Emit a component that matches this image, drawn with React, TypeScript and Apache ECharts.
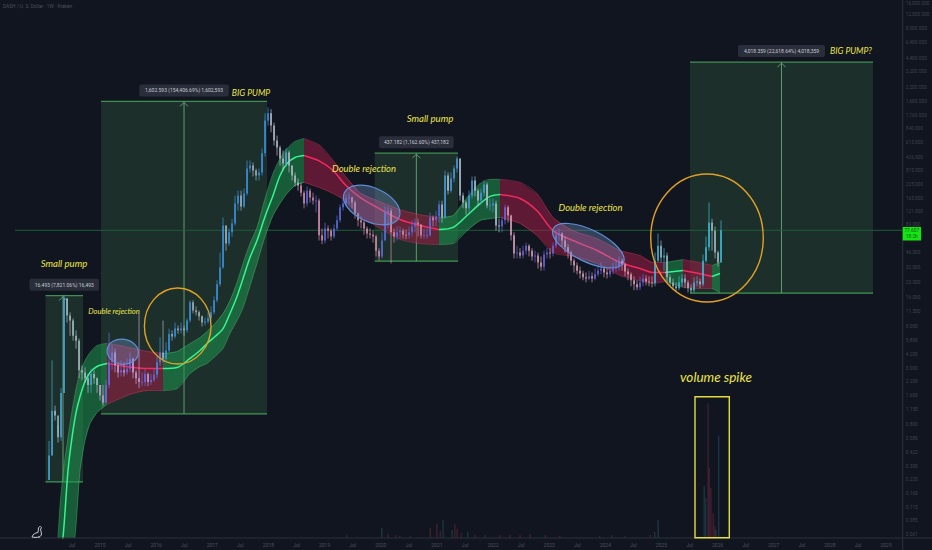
import React, { useEffect, useRef } from "react";
import * as echarts from "echarts";

const title = "DASH / U. S. Dollar · 1W · Kraken";
const axisMinYear = 2013.5;
const axisMaxYear = 2029.296;
const priceAxisMin = 0.05623;
const priceAxisMax = 17372;
const lastPrice = 77.607;

const priceTicks = [16000, 12500, 8900, 6400, 4400, 3200, 2200, 1600, 1160, 840, 615, 426, 315, 225, 165, 121, 89, 46, 32, 23, 16, 11.5, 8, 5.8, 4.2, 3, 2.2, 1.6, 1.15, 0.8, 0.58, 0.422, 0.3, 0.22, 0.16, 0.115, 0.085, 0.061];
const priceTickLabels = priceTicks.map((v) => v.toLocaleString("en-US", { minimumFractionDigits: 3, maximumFractionDigits: 3 }));

const candleStartYear = 2014.092;
const candleStepYears = 0.05343;
const candleCloses = [
  0.39, 1.12, 1.0, 0.6, 1.7, 15.7, 10.5, 9.3, 6.5, 5.8,
  2.9, 2.75, 2.4, 2.05, 2.65, 2.4, 2.05, 1.6, 1.35, 2.05,
  3.5, 4.4, 3.25, 2.75, 2.9, 2.75, 3, 3.8, 2.75, 2.4,
  2.2, 2.2, 2.65, 2.2, 2.3, 2.6, 3.5, 4.4, 3.8, 4.6,
  6.8, 6.4, 7.7, 7.4, 7.7, 7.4, 9.3, 14.3, 11.8, 11.3,
  10.3, 8.9, 9.1, 9.8, 11.3, 15, 21.8, 32.4, 87, 57,
  74, 91, 146, 176, 136, 184, 331, 355, 316, 281,
  302, 473, 1023, 1215, 910, 639, 543, 419, 373, 483,
  355, 281, 239, 222, 188, 146, 197, 168, 156, 156,
  69, 61, 81, 77, 67, 81, 98, 133, 146, 164,
  168, 149, 115, 98, 93, 81, 72, 70, 67, 48,
  42, 61, 118, 123, 74, 67, 74, 77, 70, 69,
  74, 85, 93, 89, 69, 69, 69, 105, 98, 107,
  142, 105, 281, 197, 262, 331, 419, 176, 149, 130,
  176, 250, 197, 156, 188, 228, 139, 139, 146, 87,
  85, 98, 133, 110, 69, 45, 46, 43, 48, 54,
  48, 42, 43, 36.4, 33, 44, 46, 45, 54, 69,
  72, 61, 52, 46, 38, 34, 30, 28.1, 25.7, 25,
  26.3, 25, 27.6, 30, 31.6, 28.8, 27.6, 30, 31.6, 33,
  38, 34.7, 29.5, 27.6, 24, 21.8, 20.3, 22.8, 25, 23.3,
  22.8, 22.3, 38, 54, 41, 43, 25.7, 22.8, 20.8, 19.9,
  22.8, 25, 22.8, 19.9, 19, 22.8, 23.3, 21.8, 38, 52,
  93, 77, 46, 36.4, 77.607,
];
const candleHighs = [
  0.55, 3.65, 1.26, 0.79, 1.9, 16.9, 15.7, 11.3, 9.8, 7.4,
  6.1, 3.25, 3.1, 2.65, 3, 2.9, 2.45, 2.05, 2.05, 2.3,
  7, 5.2, 4.8, 3.5, 3.65, 3.5, 3.8, 4.4, 3.9, 2.9,
  11, 2.75, 3, 2.75, 2.65, 3, 4, 6.3, 9.3, 5.6,
  7.7, 7.4, 8.9, 8.3, 8.9, 8.3, 9.8, 15, 15, 13,
  11.8, 10.5, 10, 11.3, 13, 16.4, 24, 46, 105, 87,
  81, 102, 176, 197, 197, 207, 400, 400, 382, 331,
  331, 530, 1215, 1395, 1335, 975, 719, 569, 506, 530,
  506, 355, 302, 262, 239, 197, 217, 207, 188, 176,
  164, 81, 93, 87, 81, 89, 110, 142, 164, 180,
  188, 172, 156, 118, 107, 98, 85, 81, 77, 70,
  51, 74, 136, 136, 130, 81, 85, 85, 81, 79,
  85, 98, 102, 102, 89, 81, 81, 118, 110, 123,
  156, 156, 316, 302, 302, 355, 439, 419, 188, 156,
  197, 275, 275, 207, 207, 250, 239, 164, 164, 156,
  102, 107, 142, 139, 112, 74, 54, 51, 54, 58,
  56, 51, 48, 46, 42, 48, 51, 51, 58, 77,
  81, 74, 67, 56, 48, 40, 36.4, 33, 30, 28.8,
  30, 28.8, 31.6, 34, 36.4, 33, 31.6, 33, 36.4, 38,
  42, 40, 36.4, 31.6, 28.8, 26.3, 24, 26.3, 27.6, 27,
  26.3, 26.3, 46, 72, 61, 51, 46, 27.6, 25, 22.8,
  26.3, 27.6, 27.6, 24, 21.8, 25.7, 26.3, 25, 44, 67,
  149, 102, 85, 48, 98,
];
const candleLows = [
  0.22, 0.39, 0.89, 0.53, 0.55, 1.7, 8.9, 6.5, 5.8, 4.8,
  2.4, 2.3, 2.15, 1.7, 1.7, 2.1, 1.7, 1.42, 1.26, 1.35,
  1.9, 2.9, 2.75, 2.45, 2.5, 2.5, 2.6, 2.75, 2.4, 2.1,
  1.9, 2, 2, 2, 2.05, 2.2, 2.4, 3.2, 3.5, 3.5,
  4.4, 5.8, 6.1, 6.8, 6.9, 6.5, 7, 8.9, 11, 10.5,
  9.3, 8.1, 8.3, 8.7, 9.3, 10.8, 14.3, 20.8, 31.6, 48,
  54, 67, 87, 123, 123, 130, 176, 302, 275, 250,
  250, 281, 439, 910, 775, 569, 449, 355, 316, 347,
  302, 250, 217, 197, 172, 130, 136, 149, 142, 118,
  61, 56, 57, 64, 61, 64, 77, 93, 123, 136,
  142, 130, 102, 85, 81, 70, 64, 64, 58, 42,
  38, 40, 61, 81, 35.6, 58, 61, 64, 64, 63,
  64, 67, 74, 67, 64, 64, 64, 67, 85, 85,
  93, 93, 102, 180, 188, 239, 302, 156, 130, 112,
  118, 164, 172, 136, 142, 172, 130, 123, 118, 77,
  74, 74, 89, 93, 61, 40, 40, 40, 40, 44,
  42, 38, 36.4, 31.6, 30, 30, 40, 40, 42, 51,
  61, 53, 46, 40, 34, 28.8, 27.6, 25, 24, 22.8,
  24, 22.8, 24, 26.3, 27.6, 25.7, 25, 25.7, 27.6, 28.8,
  30, 30, 26.3, 24, 20.8, 19, 19, 19, 20.8, 21.3,
  20.8, 20.3, 20.8, 36.4, 36.4, 30, 22.8, 20.8, 19, 18.5,
  19, 20.8, 19.9, 18, 17.7, 18, 20.8, 19.9, 20.8, 36.4,
  48, 48, 40, 33, 36.4,
];
const candleZoneEnds = [2015, 2015.98, 2018.0, 2018.56, 2021.06, 2022.12, 2024.88, 2030];
const candleUpColors = ["#49a6d8", "#6f6ae6", "#3d93e0", "#5f9de0", "#5d6fe2", "#4a9ae0", "#6b68da", "#3dbbd8"];
const candleDownColors = ["#a9bcc6", "#c8a0d8", "#a6b4be", "#b9bcc8", "#d98fae", "#aec3cc", "#d8a2b6", "#a0bcc4"];

const bandYears = [
  2014.216, 2014.288, 2014.359, 2014.43, 2014.501, 2014.573, 2014.644, 2014.733, 2014.822, 2014.947, 2015.125,
  2015.356, 2015.588, 2015.855, 2016.122,
  2016.371, 2016.603, 2016.781, 2016.906, 2017.048, 2017.191, 2017.315, 2017.44, 2017.547, 2017.671, 2017.796, 2017.939, 2018.081, 2018.206, 2018.33, 2018.473, 2018.633,
  2018.918, 2019.15, 2019.363, 2019.63, 2019.933, 2020.343, 2020.699, 2021.037,
  2021.287, 2021.536, 2021.768, 2021.946, 2022.124,
  2022.48, 2022.783, 2023.068, 2023.424, 2023.851, 2024.261, 2024.617, 2024.849, 2025.062,
  2025.383, 2025.668, 2025.9, 2026.042,
];
const bandUpper = [
  0.0263, 0.121, 0.309, 0.596, 1.12, 1.88, 2.75, 3.64, 4.4, 5.18, 5.43,
  5.18, 4.83, 4.5, 4.29,
  4.5, 5.43, 6.25, 7.2, 8.7, 11, 14.9, 22.8, 35.6, 56.9, 83, 164, 295, 419, 530, 625, 671,
  568, 400, 281, 188, 156, 126, 112, 105,
  110, 168, 233, 257, 257,
  239, 184, 105, 77, 64, 48.3, 43, 36.4, 36.4,
  39, 36.4, 34, 36.4,
];
const bandMiddle = [
  0.005, 0.0263, 0.0755, 0.275, 0.596, 1.07, 1.56, 2.22, 2.75, 3.16, 3.39,
  3.24, 3.09, 3.02, 3.02,
  3.09, 3.82, 4.6, 5.43, 6.4, 7.7, 11, 16.4, 25, 41, 61, 107, 176, 281, 373, 429, 449,
  392, 316, 228, 168, 133, 100, 87, 79,
  83, 110, 145, 172, 180,
  164, 123, 77, 61, 48.3, 36.4, 31.6, 28.8, 28.8,
  30.2, 28.1, 26.2, 28.1,
];
const bandLower = [
  0.00077, 0.00197, 0.005, 0.013, 0.0296, 0.0755, 0.275, 0.556, 0.83, 1.07, 1.3,
  1.49, 1.68, 1.8, 1.8,
  1.88, 2.68, 3.16, 3.39, 4, 4.83, 6.9, 9.3, 12.6, 21, 35.6, 67, 110, 146, 184, 222, 239,
  211, 184, 156, 107, 85, 62.8, 56.9, 55.5,
  56.9, 77, 97.6, 102, 105,
  91, 68.5, 46, 42, 35.6, 26.8, 23.8, 22.3, 23.3,
  20.3, 19.8, 19.8, 18,
];
const bandSegmentStarts = [2014.216, 2015.125, 2016.122, 2018.633, 2021.037, 2022.124, 2025.062, 2025.383, 2025.9];
const bandSegmentEnds = [2015.125, 2016.122, 2018.633, 2021.037, 2022.124, 2025.062, 2025.383, 2025.9, 2026.042];
const bandSegmentRising = [true, false, true, false, true, false, true, false, true];

const measureStarts = [2014.029, 2015.018, 2019.892, 2025.508];
const measureEnds = [2014.697, 2017.974, 2021.376, 2028.767];
const measureArrows = [2014.341, 2016.496, 2020.634, 2027.137];
const measureLows = [0.21, 1.04, 37.6, 17.77];
const measureHighs = [16.7, 1603.6, 474.8, 4036];
const measureLabels = [
  "16.493 (7,821.06%) 16,493",
  "1,602.593 (154,406.69%) 1,602,593",
  "437.182 (1,162.60%) 437,182",
  "4,018.359 (22,618.64%) 4,018,359",
];

const volumeRedYears = [2019.4, 2020.13, 2020.27, 2020.34, 2020.52, 2020.88, 2021.0, 2021.06, 2021.32, 2021.36, 2021.43, 2021.68, 2021.86, 2022.12, 2022.3, 2022.48, 2022.66, 2022.93, 2023.19, 2023.9, 2024.12, 2024.35, 2024.8, 2025.83, 2025.85, 2025.88, 2025.92, 2025.95];
const volumeRedValues = [0.6, 0.75, 0.55, 0.4, 0.4, 1.9, 2.6, 1.3, 2.6, 1.7, 0.9, 0.55, 0.55, 0.55, 0.55, 0.55, 0.75, 0.55, 0.4, 0.4, 0.55, 0.4, 0.55, 25, 13, 9.3, 4.6, 2.2];
const volumeTealYears = [2020.02, 2021.11, 2021.27, 2021.55, 2024.88, 2024.94, 2025.76, 2025.79, 2025.97, 2026.02];
const volumeTealValues = [1.9, 3.3, 1.5, 1.1, 1.1, 3.3, 9.7, 7.4, 1.5, 19];

const annotations = [
  { text: "Small pump", x: 64, y: 263.5, size: 9.6 },
  { text: "Double rejection", x: 114, y: 311, size: 7.6 },
  { text: "BIG PUMP", x: 251, y: 93, size: 8.6 },
  { text: "Small pump", x: 430, y: 118, size: 9.6 },
  { text: "Double rejection", x: 364, y: 168, size: 9.4 },
  { text: "Double rejection", x: 590.5, y: 207, size: 9.4 },
  { text: "BIG PUMP?", x: 851, y: 51, size: 8.6 },
  { text: "volume spike", x: 716, y: 377, size: 13.5 },
];

echarts.graphic.registerShape(
  "dino",
  echarts.graphic.extendPath("M0 11 C1 8 3 7 6 6.5 L6.5 2 C7 0 9.5 0 9.5 2 L8.5 3 L9.5 8 C9.5 11 5 12 0 11 M3 11 L3 12 M7 10.5 L7 12", {}) as any
);

function buildOption() {
  const candleSeries = {
    type: "custom",
    clip: true,
    z: 6,
    silent: true,
    data: candleCloses.map((close, i) => [
      candleStartYear + i * candleStepYears,
      i === 0 ? candleLows[0] : candleCloses[i - 1],
      close,
      candleLows[i],
      candleHighs[i],
    ]),
    renderItem: (_p: any, api: any) => {
      const year = api.value(0);
      const open = api.value(1);
      const close = api.value(2);
      const zone = candleZoneEnds.findIndex((end) => year <= end);
      const color = close >= open ? candleUpColors[zone] : candleDownColors[zone];
      const [x, yOpen] = api.coord([year, open]);
      const [, yClose] = api.coord([year, close]);
      const [, yLow] = api.coord([year, api.value(3)]);
      const [, yHigh] = api.coord([year, api.value(4)]);
      const width = 1.5;
      return {
        type: "group",
        children: [
          { type: "line", shape: { x1: x, y1: yHigh, x2: x, y2: yLow }, style: { stroke: color, lineWidth: 0.7 } },
          {
            type: "rect",
            shape: { x: x - width / 2, y: Math.min(yOpen, yClose), width, height: Math.max(Math.abs(yClose - yOpen), 0.8) },
            style: { fill: color },
          },
        ],
      };
    },
  };

  const bandSeries: any[] = [];
  bandSegmentStarts.forEach((start, s) => {
    const end = bandSegmentEnds[s];
    const rising = bandSegmentRising[s];
    const idx = bandYears.map((_, i) => i).filter((i) => bandYears[i] >= start && bandYears[i] <= end);
    const fill = rising ? "rgba(30,150,78,0.55)" : "rgba(158,30,70,0.55)";
    const edge = rising ? "rgba(90,200,120,0.55)" : "rgba(225,60,100,0.55)";
    const core = rising ? "#35f58f" : "#f5285f";
    bandSeries.push({
      type: "custom",
      clip: true,
      z: 3,
      silent: true,
      data: [[bandYears[idx[0]], bandMiddle[idx[0]]]],
      renderItem: (_p: any, api: any) => {
        const up = idx.map((i) => api.coord([bandYears[i], bandUpper[i]]));
        const low = idx.map((i) => api.coord([bandYears[i], bandLower[i]])).reverse();
        return { type: "polygon", shape: { points: up.concat(low) }, style: { fill } };
      },
    });
    const line = (vals: number[], color: string, width: number) => ({
      type: "line",
      z: 4,
      silent: true,
      symbol: "none",
      smooth: 0.3,
      lineStyle: { color, width },
      data: idx.map((i) => [bandYears[i], vals[i]]),
    });
    bandSeries.push(line(bandUpper, edge, 0.7), line(bandLower, edge, 0.7), line(bandMiddle, core, 1.5));
  });

  const measureSeries = {
    type: "custom",
    z: 1,
    silent: true,
    data: measureStarts.map((s, i) => [s, measureHighs[i]]),
    renderItem: (params: any, api: any) => {
      const i = params.dataIndex;
      const [x0, yTop] = api.coord([measureStarts[i], measureHighs[i]]);
      const [x1, yBot] = api.coord([measureEnds[i], measureLows[i]]);
      const [xm] = api.coord([measureArrows[i], measureHighs[i]]);
      const label = measureLabels[i];
      const chipW = label.length * 2.5 + 7;
      const chipCx = (x0 + x1) / 2;
      return {
        type: "group",
        children: [
          { type: "rect", shape: { x: x0, y: yTop, width: x1 - x0, height: yBot - yTop }, style: { fill: "rgba(72,140,88,0.22)" } },
          { type: "line", shape: { x1: x0, y1: yTop, x2: x1, y2: yTop }, style: { stroke: "#3f8f52", lineWidth: 1.2 } },
          { type: "line", shape: { x1: x0, y1: yBot, x2: x1, y2: yBot }, style: { stroke: "#3f9a52", lineWidth: 1.2 } },
          { type: "line", shape: { x1: xm, y1: yTop, x2: xm, y2: yBot }, style: { stroke: "#5d9c70", lineWidth: 1 } },
          { type: "polyline", shape: { points: [[xm - 4, yTop + 5], [xm, yTop + 1], [xm + 4, yTop + 5]] }, style: { stroke: "#5d9c70", lineWidth: 1, fill: "none" } },
          { type: "rect", shape: { x: chipCx - chipW / 2, y: yTop - 17, width: chipW, height: 12, r: 2 }, style: { fill: "#2a2e3a" } },
          {
            type: "text",
            style: {
              x: chipCx,
              y: yTop - 11,
              text: label,
              fill: "#c6cad2",
              font: "5px Roboto",
              align: "center",
              verticalAlign: "middle",
              textAlign: "center",
              textVerticalAlign: "middle",
            },
          },
        ],
      };
    },
  };

  const textEl = (t: any) => ({
    type: "text",
    x: t.x,
    y: t.y,
    z: 110,
    silent: true,
    style: {
      text: t.text,
      fill: t.fill || "#ece54a",
      font: t.font || `italic ${t.size}px Lato`,
      align: t.align || "center",
      verticalAlign: "middle",
      textAlign: t.align || "center",
      textVerticalAlign: "middle",
    },
  });
  const ellipse = (cx: number, cy: number, rx: number, ry: number, rot: number, fill: string, stroke: string, lw: number) => ({
    type: "ellipse",
    x: cx,
    y: cy,
    rotation: rot,
    z: 100,
    silent: true,
    shape: { cx: 0, cy: 0, rx, ry },
    style: { fill, stroke, lineWidth: lw },
  });

  return {
    animation: false,
    backgroundColor: "#11151f",
    grid: { left: 15.8, right: 29.3, top: 0, bottom: 12, containLabel: false },
    xAxis: {
      type: "value",
      min: axisMinYear,
      max: axisMaxYear,
      interval: 0.5,
      splitLine: { show: false },
      axisLine: { show: false },
      axisTick: { show: false },
      axisLabel: {
        color: "#4b505c",
        fontSize: 5,
        fontFamily: "Roboto",
        margin: 4,
        showMinLabel: false,
        showMaxLabel: false,
        formatter: (v: number) => {
          if (v < 2014.4 || v > 2029.1) return "";
          return Number.isInteger(v) ? String(v) : "Jul";
        },
      },
    },
    yAxis: [
      { type: "log", logBase: 10, min: priceAxisMin, max: priceAxisMax, show: false, splitLine: { show: false } },
      { type: "value", min: 0, max: 100, show: false, splitLine: { show: false } },
    ],
    series: [
      {
        type: "line",
        z: 1,
        silent: true,
        clip: false,
        symbol: "none",
        lineStyle: { color: "#1f5c3a", width: 1 },
        data: [[2013.22, lastPrice], [axisMaxYear, lastPrice]],
      },
      measureSeries,
      {
        type: "bar",
        yAxisIndex: 1,
        z: 2,
        silent: true,
        barWidth: 1.2,
        barGap: "-100%",
        itemStyle: { color: "rgba(120,42,62,0.55)" },
        data: volumeRedYears.map((y, i) => [y, volumeRedValues[i]]),
      },
      {
        type: "bar",
        yAxisIndex: 1,
        z: 2,
        silent: true,
        barWidth: 1.2,
        barGap: "-100%",
        itemStyle: { color: "rgba(34,92,98,0.55)" },
        data: volumeTealYears.map((y, i) => [y, volumeTealValues[i]]),
      },
      ...bandSeries,
      candleSeries,
      {
        type: "scatter",
        z: 7,
        silent: true,
        symbolSize: 0.1,
        itemStyle: { color: "transparent" },
        label: {
          show: true,
          position: "right",
          distance: 3,
          color: "#4b505c",
          fontSize: 4.8,
          fontFamily: "Roboto",
          formatter: (p: any) => priceTickLabels[p.dataIndex],
        },
        data: priceTicks.map((v) => [axisMaxYear, v]),
      },
    ],
    graphic: [
      { type: "line", z: 90, silent: true, shape: { x1: 0, y1: 538, x2: 932, y2: 538 }, style: { stroke: "#2c303b", lineWidth: 1 } },
      { type: "line", z: 90, silent: true, shape: { x1: 902.7, y1: 0, x2: 902.7, y2: 550 }, style: { stroke: "#2c303b", lineWidth: 1 } },
      ellipse(122.7, 351.7, 15.7, 12.5, -0.15, "rgba(125,160,215,0.32)", "#5c8fd8", 1.2),
      ellipse(371.7, 205, 30, 17, -0.42, "rgba(125,160,215,0.32)", "#5c8fd8", 1.2),
      ellipse(588.3, 245.7, 39, 16, -0.45, "rgba(125,160,215,0.32)", "#5c8fd8", 1.2),
      ellipse(177.7, 326, 33.3, 38, 0, "none", "#e0a024", 1.4),
      ellipse(707, 238, 56.3, 64, 0, "none", "#e0a024", 1.4),
      { type: "rect", z: 100, silent: true, shape: { x: 695, y: 396.7, width: 34.3, height: 141 }, style: { fill: "none", stroke: "#e6dc3c", lineWidth: 1.4 } },
      { type: "rect", z: 100, silent: true, shape: { x: 902.7, y: 227, width: 18.3, height: 13.5 }, style: { fill: "#14e614" } },
      textEl({ text: "77.607", x: 911.8, y: 230.8, font: "4.8px Roboto", fill: "#0a5a0a" }),
      textEl({ text: "18:2h", x: 911.8, y: 236.7, font: "4.8px Roboto", fill: "#0a5a0a" }),
      textEl({ text: title, x: 3, y: 6, font: "4.8px Roboto", fill: "#4b505c", align: "left" }),
      { type: "dino", x: 32, y: 526, z: 100, silent: true, style: { fill: "none", stroke: "#c6cad2", lineWidth: 1 } },
      ...annotations.map(textEl),
    ],
  };
}

export default function App() {
  const ref = useRef<HTMLDivElement>(null);
  useEffect(() => {
    document.body.style.margin = "0";
    document.body.style.background = "#11151f";
    const chart = echarts.init(ref.current!, undefined, { renderer: "svg", width: 932, height: 550 });
    chart.setOption(buildOption() as any);
    return () => chart.dispose();
  }, []);
  return <div ref={ref} style={{ width: 932, height: 550 }} />;
}
